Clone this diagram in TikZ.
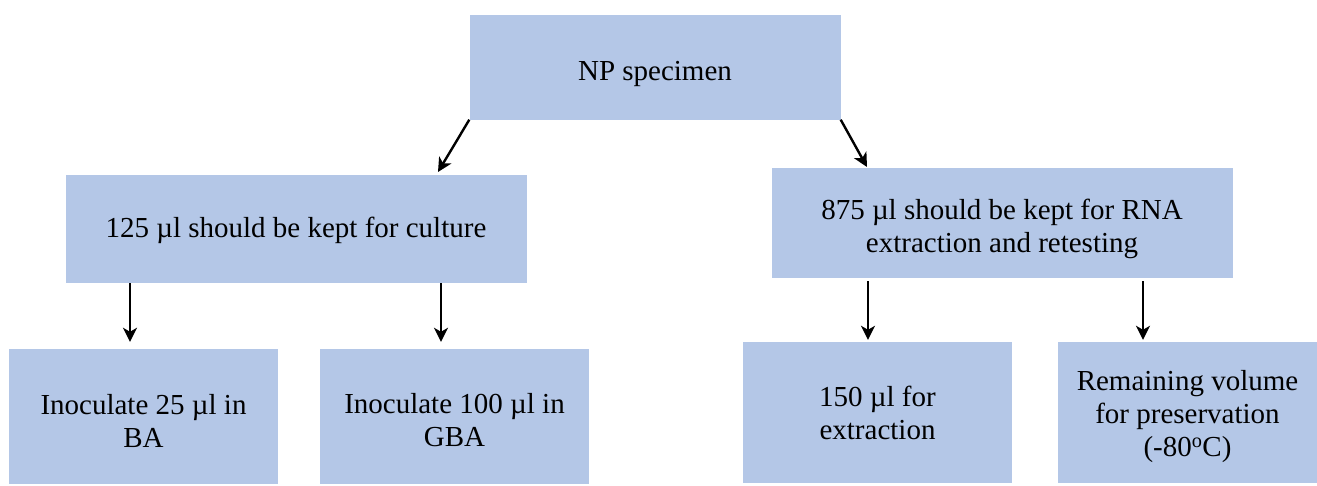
\documentclass[tikz,border=0pt]{standalone}
\usepackage{fontspec}
\setmainfont{Liberation Serif}
\usetikzlibrary{arrows.meta}
\begin{document}
\begin{tikzpicture}[x=1pt,y=-1pt,
  box/.style={fill=boxblue,draw=none,inner sep=0pt},
  txt/.style={align=center,inner sep=0pt,font=\fontsize{29}{33}\selectfont},
  arr/.style={line width=2.4pt,-{Stealth[length=14pt,width=14pt,inset=4pt]}}]
\definecolor{boxblue}{HTML}{B4C7E7}
\useasboundingbox (0,0) rectangle (1317,485);
\node[box,minimum width=371pt,minimum height=105pt] (np) at (655,67) {};
\node[box,minimum width=461pt,minimum height=108pt] (c125) at (296,229) {};
\node[box,minimum width=461pt,minimum height=110pt] (c875) at (1002,223) {};
\node[box,minimum width=269pt,minimum height=135pt] (ba) at (143.5,416.5) {};
\node[box,minimum width=269pt,minimum height=135pt] (gba) at (454.5,416.5) {};
\node[box,minimum width=269pt,minimum height=141pt] (ext) at (877.5,412.5) {};
\node[box,minimum width=259pt,minimum height=141pt] (rem) at (1187.5,412.5) {};
\node[txt] (npt) at ([yshift=-7pt]np.center) {NP specimen};
\node[txt] (c125t) at ([yshift=-1pt]c125.center) {125 µl should be kept for culture};
\node[txt] (c875t) at ([yshift=-6pt]c875.center) {875 µl should be kept for RNA\\extraction and retesting};
\node[txt] (bat) at ([yshift=-4pt]ba.center) {Inoculate 25 µl in\\BA};
\node[txt] (gbat) at ([yshift=-4pt]gba.center) {Inoculate 100 µl in\\GBA};
\node[txt] (extt) at (ext.center) {150 µl for\\extraction};
\node[txt] (remt) at ([yshift=-4pt]rem.center) {Remaining volume\\for preservation\\(-80\textsuperscript{o}C)};
\coordinate (t1) at (438,172);
\coordinate (t2) at (867,167);
\coordinate (a1) at (130,0);
\coordinate (a2) at (441,0);
\coordinate (a3) at (868,0);
\coordinate (a4) at (1143,0);
\draw[arr] (np.south west) -- (t1);
\draw[arr] (np.south east) -- (t2);
\draw[arr,shorten >=7pt] (c125.south -| a1) -- (ba.north -| a1);
\draw[arr,shorten >=7pt] (c125.south -| a2) -- (gba.north -| a2);
\draw[arr,shorten >=2pt,shorten <=3pt] (c875.south -| a3) -- (ext.north -| a3);
\draw[arr,shorten >=2pt,shorten <=3pt] (c875.south -| a4) -- (rem.north -| a4);
\end{tikzpicture}
\end{document}
